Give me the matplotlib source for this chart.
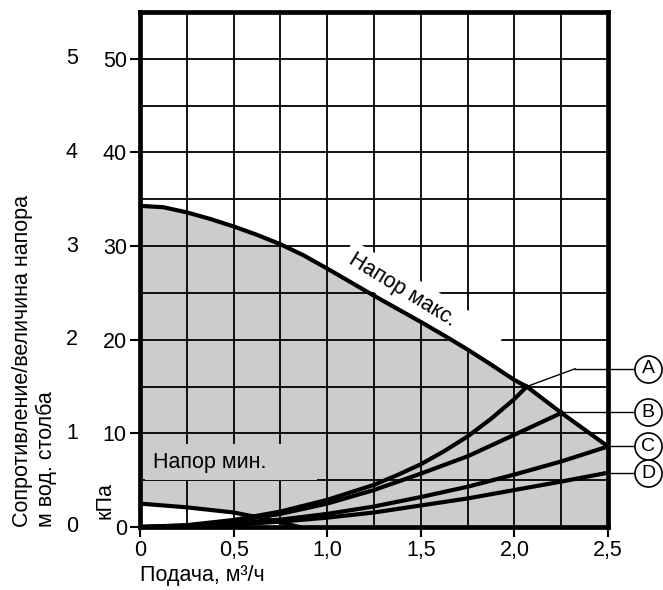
import matplotlib
matplotlib.use("Agg")
import matplotlib.pyplot as plt
import matplotlib.transforms as mtransforms
from matplotlib.ticker import MultipleLocator, FuncFormatter
import numpy as np

plt.rcParams['font.family'] = ['Liberation Sans', 'DejaVu Sans']

# ---- data ----
max_x = [0.0, 0.125, 0.25, 0.375, 0.5, 0.625, 0.75, 0.875, 1.0, 1.125, 1.25,
         1.375, 1.5, 1.625, 1.75, 1.875, 2.0, 2.066, 2.125, 2.25, 2.375, 2.5]
max_y = [34.3, 34.15, 33.6, 32.9, 32.1, 31.2, 30.2, 29.0, 27.6, 26.15, 24.7,
         23.3, 21.9, 20.45, 18.95, 17.35, 15.7, 15.0, 14.1, 12.2, 10.4, 8.6]

min_x = [0.0, 0.25, 0.5, 0.7, 0.85]
min_y = [2.5, 2.1, 1.55, 0.75, 0.0]

a_x = [0.0, 0.25, 0.5, 0.75, 1.0, 1.25, 1.375, 1.5, 1.625, 1.75, 1.875, 2.0, 2.066]
a_y = [0.0, 0.2, 0.75, 1.65, 2.9, 4.5, 5.55, 6.7, 8.1, 9.67, 11.55, 13.67, 15.0]
b_x = [0.0, 0.25, 0.5, 0.75, 1.0, 1.25, 1.5, 1.75, 2.0, 2.253]
b_y = [0.0, 0.15, 0.62, 1.4, 2.5, 3.95, 5.7, 7.55, 9.85, 12.2]
c_x = [0.0, 0.25, 0.5, 0.75, 1.0, 1.25, 1.5, 1.75, 2.0, 2.25, 2.5]
c_y = [0.0, 0.09, 0.35, 0.79, 1.4, 2.19, 3.2, 4.3, 5.6, 7.0, 8.6]
d_x = [0.0, 0.25, 0.5, 0.75, 1.0, 1.25, 1.5, 1.75, 2.0, 2.25, 2.5]
d_y = [0.0, 0.06, 0.25, 0.57, 1.0, 1.55, 2.3, 3.05, 3.95, 4.85, 5.8]

curve_names = ['A', 'B', 'C', 'D']
label_y = [16.9, 12.25, 8.6, 5.75]

kpa_ticks = [0, 10, 20, 30, 40, 50]
m_labels = ['0', '1', '2', '3', '4', '5']
x_ticks = [0, 0.5, 1.0, 1.5, 2.0, 2.5]

FS = 15.5

fig = plt.figure(figsize=(6.63, 5.90), dpi=100)
ax = fig.add_axes([140/663, 63/590, 468/663, 515/590])
ax.set_xlim(0, 2.5)
ax.set_ylim(0, 55)

# grid
ax.set_axisbelow(True)
ax.xaxis.set_minor_locator(MultipleLocator(0.25))
ax.yaxis.set_minor_locator(MultipleLocator(5))
ax.set_xticks(x_ticks)
ax.set_yticks(kpa_ticks)
ax.grid(which='both', color='black', lw=1.3)
ax.tick_params(which='minor', length=0)
ax.tick_params(which='major', direction='out', length=7, width=1.5,
               labelsize=FS, pad=2.5)

def xfmt(v, p):
    if abs(v) < 1e-9:
        return '0'
    return ('%.1f' % v).replace('.', ',')
ax.xaxis.set_major_formatter(FuncFormatter(xfmt))

for s in ax.spines.values():
    s.set_linewidth(3.4)
    s.set_zorder(5)

# fill between min & max
fx = np.array(max_x)
low = np.interp(fx, min_x, min_y, right=0.0)
ax.fill_between(max_x, low, max_y, color='#cccccc', lw=0, zorder=0.3)
ax.fill_between(min_x, 0, min_y, color='white', lw=0, zorder=0.35)

# curves
ax.plot(max_x, max_y, color='black', lw=3.0, zorder=3)
ax.plot(min_x, min_y, color='black', lw=3.0, zorder=3)
for cx, cy in [(a_x, a_y), (b_x, b_y), (c_x, c_y), (d_x, d_y)]:
    ax.plot(cx, cy, color='black', lw=3.0, zorder=3)

# text labels
ax.text(1.124, 28.74, 'Напор макс.\u2003\u2003', rotation=-31.6, rotation_mode='anchor',
        ha='left', va='center', fontsize=FS, zorder=0.6,
        bbox=dict(boxstyle='square,pad=0.3', fc='white', ec='none'))
ax.text(0.069, 6.32, 'Напор мин.\u2003\u2003', ha='left', va='baseline',
        fontsize=FS, zorder=0.6,
        bbox=dict(boxstyle='square,pad=0.35', fc='#cccccc', ec='none'))

# circle labels & leaders
trans = mtransforms.blended_transform_factory(ax.transAxes, ax.transData)
circ_x = 1.0855
ends = [(a_x[-1], a_y[-1]), (b_x[-1], b_y[-1]), (c_x[-1], c_y[-1]), (d_x[-1], d_y[-1])]
for name, ly, (ex, ey) in zip(curve_names, label_y, ends):
    ax.plot([circ_x], [ly], marker='o', ms=19.5, mfc='white', mec='black',
            mew=1.2, transform=trans, clip_on=False, zorder=6)
    ax.text(circ_x, ly, name, transform=trans, ha='center', va='center',
            fontsize=FS - 1.5, zorder=7, clip_on=False)
    x_circle_edge = circ_x - 13.5 / 468
    if name == 'A':
        elbow = 2.324
        ax.plot([ex, elbow], [ey, ly], color='black', lw=1.0, zorder=4, clip_on=False)
        ax.plot([elbow / 2.5, x_circle_edge], [ly, ly], color='black', lw=1.0,
                transform=trans, zorder=4, clip_on=False)
    else:
        ax.plot([ex / 2.5, x_circle_edge], [ly, ly], color='black', lw=1.0,
                transform=trans, zorder=4, clip_on=False)

# secondary (m water column) labels
for v, lab in zip(kpa_ticks, m_labels):
    ax.text(-0.1453, v, lab, transform=trans, ha='center', va='center',
            fontsize=FS, clip_on=False)

# axis titles
ax.text(-0.075, 0.9, 'кПа', transform=trans, rotation=90, ha='center',
        va='bottom', fontsize=FS, clip_on=False)
ax.text(-0.2009, 0, 'м вод. столба', transform=trans, rotation=90, ha='center',
        va='bottom', fontsize=FS, clip_on=False)
ax.text(-0.252, 0, 'Сопротивление/величина напора', transform=trans, rotation=90,
        ha='center', va='bottom', fontsize=FS, clip_on=False)
fig.text(140/663, 1 - 576/590, 'Подача, м³/ч', ha='left', va='center', fontsize=FS)

fig.savefig('out.png', dpi=100)
